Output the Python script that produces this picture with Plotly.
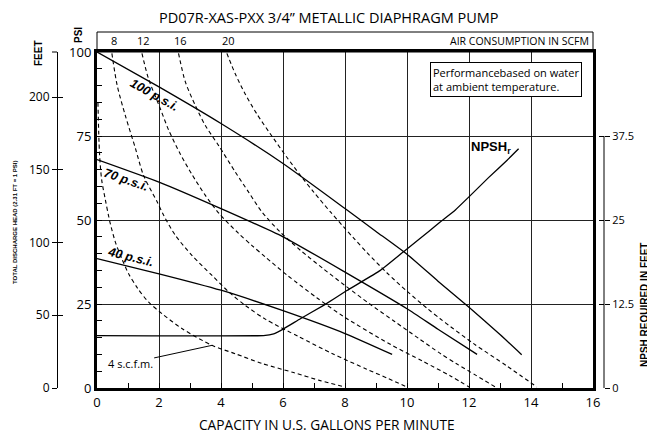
import plotly.graph_objects as go

# page body adds an 8px offset; size the figure so it fills the 655x437 window
OFF = 8
W, H = 655 - OFF, 437 - OFF
def fx(px): return (px - OFF) / W
def fy(py): return 1 - (py - OFF) / H

X_DOM = [fx(97), fx(593)]
Y_DOM = [fy(388), fy(52)]

FONT = "Open Sans, Noto Sans, sans-serif"
NARROW = "Liberation Sans Narrow, Liberation Sans, Arial, sans-serif"
BOLD = "Liberation Sans, Arial, sans-serif"

# ---------------- data ----------------
capacity_ticks = [0, 2, 4, 6, 8, 10, 12, 14, 16]
psi_ticks = [0, 25, 50, 75, 100]
feet_ticks = [0, 50, 100, 150, 200]
npsh_ticks = [0, 12.5, 25, 37.5]
FT_PER_PSI = 2.31

# solid head curves (capacity gpm, head psi)
p100_x = [0, 2, 4, 6, 8, 9, 10, 11, 12, 13, 13.7]
p100_y = [100, 89.6, 78.7, 66.8, 53.4, 46.6, 39.8, 31.8, 24.0, 15.9, 9.9]
p70_x = [0, 2, 4, 6, 8, 10, 11, 12.26]
p70_y = [68, 61.3, 53.4, 45.0, 34.5, 23.6, 17.5, 10.0]
p40_x = [0, 2, 4, 6, 8, 9.52]
p40_y = [38.5, 34.0, 29.1, 23.0, 16.2, 10.0]

# NPSH required (capacity gpm, feet)
npsh_x = [0, 5.37, 5.7, 6.02, 6.56, 7.31, 8.06, 9.14, 10.0, 10.7, 11.07, 11.56, 11.99, 12.63, 13.23, 13.6]
npsh_y = [7.8, 7.8, 8.05, 8.8, 10.3, 12.3, 14.5, 17.5, 20.7, 23.3, 24.7, 26.5, 28.4, 31.3, 33.9, 35.6]

# air consumption curves (scfm)
air_labels = ["4", "8", "12", "16", "20"]
air4_x = [0.03, 0.08, 0.15, 0.27, 0.37, 0.43, 0.59, 0.8, 1.02, 1.3, 1.66, 2.1, 2.74, 3.71, 4.46, 5.32, 6.34, 7.2, 8.0]
air4_y = [85, 70, 62, 56, 51.4, 48.9, 43.5, 38.5, 34.0, 29.8, 25.6, 22.1, 17.7, 12.7, 10.2, 7.3, 4.6, 2.2, 0.3]
air8_x = [0.48, 0.65, 0.91, 1.24, 1.5, 1.94, 2.15, 2.53, 3.06, 3.71, 4.25, 4.78, 5.43, 6.5, 7.6, 8.7, 9.4, 10.0]
air8_y = [99.6, 90.1, 81.2, 71.3, 63.3, 55.4, 51.4, 45.4, 39.5, 33.5, 28.6, 24.6, 20.5, 15.3, 10.2, 5.6, 2.8, 0.3]
air12_x = [1.45, 1.66, 2.04, 2.31, 2.69, 3.06, 3.49, 3.95, 4.57, 5.0, 5.43, 6.13, 7.1, 7.95, 9.46, 10.5, 11.4, 12.0]
air12_y = [99.6, 92.1, 83.2, 76.8, 69.6, 63.6, 57.4, 51.8, 46.0, 42.4, 39.0, 33.6, 26.8, 21.3, 13.0, 8.0, 3.6, 0.3]
air16_x = [2.63, 2.85, 3.17, 3.49, 3.92, 4.46, 4.89, 5.32, 5.9, 6.56, 7.3, 8.0, 8.8, 9.6, 10.4, 11.07, 11.6, 12.2, 12.85]
air16_y = [99.6, 91.1, 84.1, 78.2, 72.2, 64.3, 58.3, 52.4, 46.5, 41.0, 35.5, 30.5, 25.0, 19.8, 14.6, 10.3, 7.2, 3.9, 0.3]
air20_x = [4.19, 4.46, 4.78, 5.16, 5.7, 6.13, 6.56, 6.99, 7.53, 7.95, 8.28, 8.71, 9.35, 10.0, 10.65, 11.07, 11.4, 12.15, 13.23, 14.19]
air20_y = [99.6, 93.5, 87.5, 81.5, 74.2, 68.6, 63.3, 58.3, 52.4, 48.0, 44.6, 40.3, 34.3, 28.8, 23.7, 20.6, 18.3, 13.2, 6.5, 0.3]

air_x = [air4_x, air8_x, air12_x, air16_x, air20_x]
air_y = [air4_y, air8_y, air12_y, air16_y, air20_y]

# ---------------- figure ----------------
fig = go.Figure()

for xs, ys in zip(air_x, air_y):
    fig.add_trace(go.Scatter(x=xs, y=ys, mode="lines",
                             line=dict(color="black", width=1.1, dash="4px,3px", shape="spline", smoothing=0.8),
                             hoverinfo="skip", showlegend=False))

for xs, ys in [(p100_x, p100_y), (p70_x, p70_y), (p40_x, p40_y)]:
    fig.add_trace(go.Scatter(x=xs, y=ys, mode="lines",
                             line=dict(color="black", width=1.3, shape="spline", smoothing=0.5),
                             hoverinfo="skip", showlegend=False))

fig.add_trace(go.Scatter(x=npsh_x, y=npsh_y, mode="lines", yaxis="y2",
                         line=dict(color="black", width=1.3, shape="spline", smoothing=0.3),
                         hoverinfo="skip", showlegend=False))

# dummy traces so the extra axes are drawn
for ax in ["y3", "y4", "y5"]:
    fig.add_trace(go.Scatter(x=[None], y=[None], yaxis=ax, mode="markers",
                             hoverinfo="skip", showlegend=False))

tickfont = dict(family=FONT, size=13, color="black")

fig.update_layout(
    width=W, height=H, autosize=False,
    margin=dict(l=0, r=0, t=0, b=0, autoexpand=False),
    paper_bgcolor="white", plot_bgcolor="white",
    showlegend=False,
    xaxis=dict(domain=X_DOM, range=[0, 16], tickvals=capacity_ticks, automargin=False,
               showgrid=True, gridcolor="#222", gridwidth=1, zeroline=False,
               showline=True, linewidth=3, linecolor="black", mirror=True,
               ticks="inside", ticklen=5, tickcolor="black",
               minor=dict(tickmode="linear", tick0=0, dtick=1, ticks="inside", ticklen=5,
                          tickcolor="black", tickwidth=1, showgrid=False),
               tickfont=tickfont),
    yaxis=dict(domain=Y_DOM, range=[0, 100], tickvals=psi_ticks, automargin=False,
               showgrid=True, gridcolor="#222", gridwidth=1, zeroline=False,
               showline=True, linewidth=3, linecolor="black", mirror=True,
               ticks="inside", ticklen=5, tickcolor="black",
               minor=dict(tickmode="linear", tick0=0, dtick=5, ticks="inside", ticklen=5,
                          tickcolor="black", tickwidth=1, showgrid=False),
               tickfont=tickfont),
    yaxis2=dict(overlaying="y", anchor="free", position=fx(604), side="right", automargin=False,
                range=[0, 50], tickvals=npsh_ticks, ticktext=[("%g" % v) for v in npsh_ticks],
                ticks="outside", ticklen=5, tickcolor="black", showgrid=False, zeroline=False,
                showline=False, tickfont=dict(family=FONT, size=11, color="black")),
    yaxis5=dict(overlaying="y", anchor="free", position=fx(604), side="right", automargin=False,
                range=[0, 50], tickvals=npsh_ticks, showticklabels=False,
                ticks="inside", ticklen=5, tickcolor="black", showgrid=False, zeroline=False,
                showline=False),
    yaxis3=dict(overlaying="y", anchor="free", position=fx(57), side="left", automargin=False,
                range=[0, 100 * FT_PER_PSI], tickvals=feet_ticks,
                ticks="outside", ticklen=5, tickcolor="black", showgrid=False, zeroline=False,
                showline=True, linewidth=1, linecolor="black",
                tickfont=dict(family=FONT, size=12, color="black")),
    yaxis4=dict(overlaying="y", anchor="free", position=fx(57), side="left", automargin=False,
                range=[0, 100 * FT_PER_PSI], tickvals=feet_ticks + [100 * FT_PER_PSI],
                showticklabels=False, ticks="inside", ticklen=5, tickcolor="black",
                showgrid=False, zeroline=False, showline=False),
)

shapes = [
    # air-consumption header box
    dict(type="rect", xref="paper", yref="paper", x0=X_DOM[0], x1=X_DOM[1],
         y0=Y_DOM[1], y1=fy(32), line=dict(color="black", width=1), layer="above"),
    # NPSH axis line from 0 to 37.5
    dict(type="line", xref="paper", yref="y2", x0=fx(604), x1=fx(604),
         y0=npsh_ticks[0], y1=npsh_ticks[-1], line=dict(color="black", width=1)),
    # feet axis top cap (outer half)
    dict(type="line", xref="paper", yref="paper", x0=fx(52), x1=fx(57),
         y0=Y_DOM[1], y1=Y_DOM[1], line=dict(color="black", width=1)),
]
fig.update_layout(shapes=shapes)

def pann(text, px, py, size, family=FONT, angle=0, **kw):
    d = dict(text=text, xref="paper", yref="paper", x=fx(px), y=fy(py), showarrow=False,
             xanchor="center", yanchor="middle", textangle=angle,
             font=dict(family=family, size=size, color="black"))
    d.update(kw)
    return d

ann = []
ann.append(pann("PD07R-XAS-PXX 3/4\u201d METALLIC DIAPHRAGM PUMP", 329, 17.5, 14.5, borderpad=0))
ann.append(pann("CAPACITY IN U.S. GALLONS PER MINUTE", 327, 424, 13.7, borderpad=0))
# header labels
for lab, xs in zip(air_labels[1:], air_x[1:]):
    ann.append(dict(text=lab, xref="x", yref="paper", x=xs[0], y=fy(41), xshift=2,
                    xanchor="center", yanchor="middle",
                    showarrow=False, font=dict(family=FONT, size=11, color="black")))
ann.append(pann("AIR CONSUMPTION IN SCFM", 591, 41, 10.5, xanchor="right"))
# axis titles
ann.append(pann("<b>PSI</b>", 79, 35, 10, NARROW, -90))
ann.append(pann("<b>FEET</b>", 38, 53, 10, NARROW, -90))
ann.append(pann("<b>TOTAL DISCHARGE HEAD (%.2f FT = 1 PSI)</b>" % FT_PER_PSI, 15, 222, 6, NARROW, -90))
ann.append(pann("<b>NPSH REQUIRED IN FEET</b>", 644, 305, 10, NARROW, -90))
# note box
ann.append(pann("Performancebased on water<br>at ambient temperature.", 430, 62, 11,
                xanchor="left", yanchor="top", align="left",
                bordercolor="black", borderwidth=1, borderpad=2, bgcolor="white"))
# curve labels
def dann(text, x, y, angle, size=12.5, **kw):
    d = dict(text=text, x=x, y=y, textangle=angle, showarrow=False, xanchor="center", yanchor="middle",
             font=dict(family=BOLD, size=size, color="black"))
    d.update(kw)
    return d
ann.append(dann("<b><i>100 p.s.i.</i></b>", 1.85, 87.2, 29))
ann.append(dann("<b><i>70 p.s.i.</i></b>", 0.95, 61.8, 19))
ann.append(dann("<b><i>40 p.s.i.</i></b>", 1.07, 38.9, 14))
ann.append(dann("<b>NPSH<sub>r</sub></b>", 13.42, 35.8, 0, 13, yref="y2", xanchor="right"))
ann.append(dict(text="4 s.c.f.m.", x=air4_x[13], y=air4_y[13], ax=1.07, ay=7.4, axref="x", ayref="y",
                showarrow=True, arrowhead=0, arrowwidth=1, arrowcolor="black", standoff=0,
                font=dict(family=FONT, size=11, color="black")))
fig.update_layout(annotations=ann)

fig.write_html("out.html")
